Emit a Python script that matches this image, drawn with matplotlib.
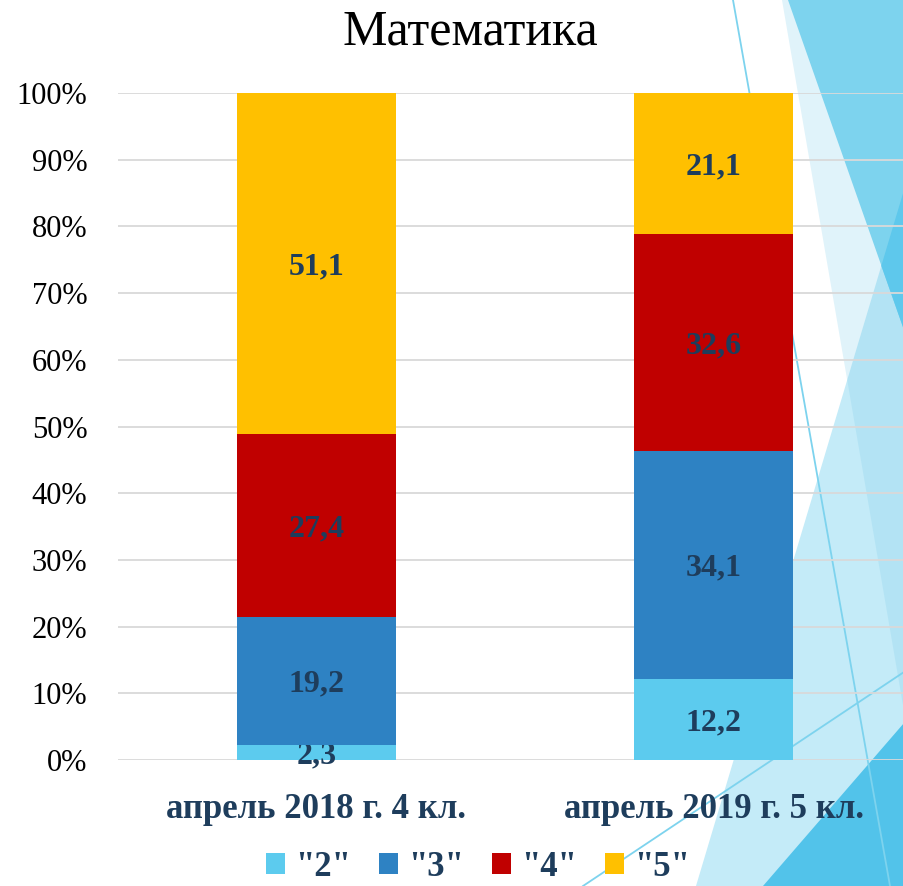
import matplotlib
matplotlib.use("Agg")
import matplotlib.pyplot as plt
from matplotlib.patches import Polygon, Patch
from matplotlib.lines import Line2D
from matplotlib.ticker import PercentFormatter
import numpy as np

plt.rcParams['font.family'] = ['Liberation Serif', 'DejaVu Serif']

# ---- data ----
title = "Математика"
categories = ["апрель 2018 г. 4 кл.", "апрель 2019 г. 5 кл."]
series_names = ['"2"', '"3"', '"4"', '"5"']
grade2 = [2.3, 12.2]
grade3 = [19.2, 34.1]
grade4 = [27.4, 32.6]
grade5 = [51.1, 21.1]
series_values = [grade2, grade3, grade4, grade5]
series_colors = ["#5ccbee", "#2e82c3", "#c00000", "#ffc000"]
yticks = [0, 10, 20, 30, 40, 50, 60, 70, 80, 90, 100]

LABEL_COLOR = "#1e3d5c"
W, H = 904, 886

fig = plt.figure(figsize=(W / 100, H / 100), dpi=100)
fig.patch.set_facecolor("white")


def px(x, y):
    return (x / W, 1 - y / H)


# ---- decorative background shapes (right side) ----
def poly(points, color, alpha=1.0):
    p = Polygon([px(*pt) for pt in points], closed=True, transform=fig.transFigure,
                facecolor=color, edgecolor="none", alpha=alpha, zorder=-5)
    fig.patches.append(p)


poly([(904, 190), (904, 886), (696, 886)], "#c4ebf8")
poly([(781.7, 0), (904, 0), (904, 711)], (124 / 255, 204 / 255, 234 / 255), 0.237)
poly([(788.3, 0), (904, 0), (904, 330)], "#7dd3ee")
poly([(904, 190), (881.3, 265.8), (904, 330)], "#5ec8ec")
poly([(904, 723), (904, 886), (763, 886)], "#52c3ea")

for (x0, y0), (x1, y1) in [((733, 0), (890, 886)), ((904, 672), (583, 886))]:
    ln = Line2D([x0 / W, x1 / W], [1 - y0 / H, 1 - y1 / H], transform=fig.transFigure,
                color="#7dd3ee", lw=1.3, zorder=-4)
    fig.lines.append(ln)

# ---- axes ----
left_px, right_px = 118, 912
top_px, bottom_px = 93, 760
ax = fig.add_axes([left_px / W, 1 - bottom_px / H, (right_px - left_px) / W, (bottom_px - top_px) / H])
ax.set_facecolor("none")
ax.patch.set_alpha(0)

x = np.arange(len(categories))
bottom = np.zeros(len(categories))
for name, vals, col in zip(series_names, series_values, series_colors):
    vals = np.array(vals)
    bars = ax.bar(x, vals, width=0.4, bottom=bottom, color=col, label=name, zorder=3)
    texts = ax.bar_label(bars, labels=[f"{v:.1f}".replace(".", ",") for v in vals],
                         label_type="center", color=LABEL_COLOR, fontsize=23, fontweight="bold")
    for t in texts:
        t.set_va("center_baseline")
    bottom += vals

ax.set_xlim(-0.5, 1.5)
ax.set_ylim(0, 100)
ax.set_yticks(yticks)
ax.yaxis.set_major_formatter(PercentFormatter(decimals=0))
ax.set_xticks(x)
ax.set_xticklabels(categories, fontsize=25, fontweight="bold", color=LABEL_COLOR)
ax.tick_params(axis="y", length=0, pad=22, labelsize=22, labelcolor="black")
ax.tick_params(axis="x", length=0, pad=24)
ax.grid(axis="y", color="#d9d9d9", lw=1.3, zorder=0)
ax.set_axisbelow(True)
for s in ax.spines.values():
    s.set_visible(False)

fig.text(470 / W, 1 - 32 / H, title, ha="center", va="center", fontsize=36, color="black")

handles = [Patch(facecolor=c, edgecolor="none") for c in series_colors]
leg = fig.legend(handles, series_names, loc="center", bbox_to_anchor=(478 / W, 1 - 867 / H),
                 ncol=4, frameon=False, handlelength=0.55, handleheight=0.55, handletextpad=0.3,
                 columnspacing=0.8, borderpad=0, prop={"size": 25, "weight": "bold"})
for t in leg.get_texts():
    t.set_color(LABEL_COLOR)

fig.savefig("out.png", dpi=100)
